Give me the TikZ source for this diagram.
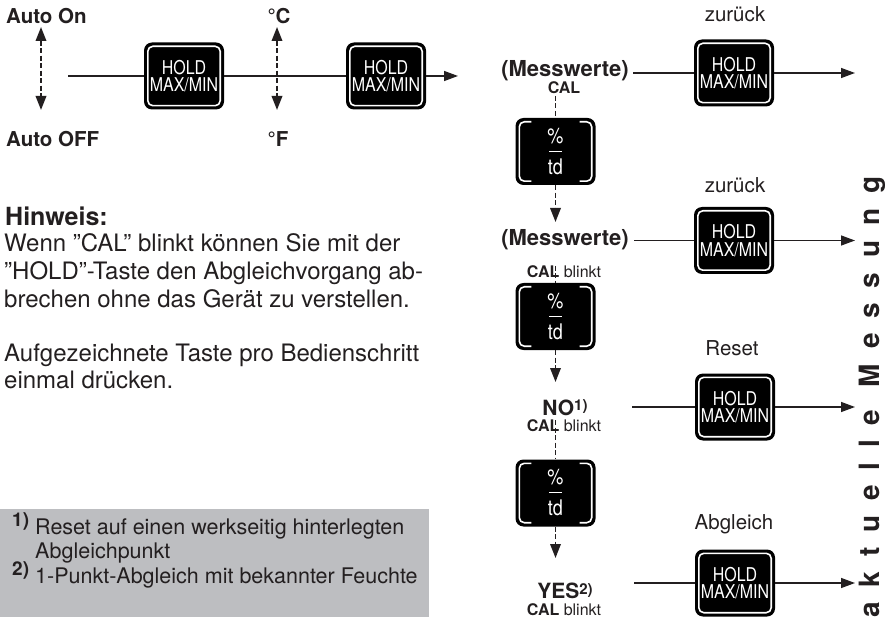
\documentclass[tikz,border=0pt]{standalone}
\usepackage{fontspec}
\setmainfont{TeX Gyre Heros}
\newfontfamily\keyfam[FakeStretch=0.84]{TeX Gyre Heros}
\usetikzlibrary{arrows.meta,calc}
\definecolor{txt}{HTML}{231F20}
\definecolor{boxgray}{HTML}{BDBEC1}
\newcommand\fsz[1]{\fontsize{#1}{#1}\selectfont}
\newcommand\keyfnt{\keyfam\fontsize{19}{17.5}\selectfont}
\newcommand\tdfnt{\keyfam\fontsize{21.5}{21.5}\selectfont}
\tikzset{
  lbl/.style={inner sep=0pt, text=txt},
  keybox/.style={fill=black, rounded corners=8pt, minimum width=80pt, minimum height=67pt,
    inner sep=0pt, text=white, align=center, font=\keyfnt},
  keyrim/.style={draw=white, line width=1.6pt, rounded corners=5pt},
  flow/.style={line width=1.4pt, draw=txt},
  flowarrow/.style={flow, -{Triangle[length=14pt,width=10pt]}},
  dashln/.style={line width=1.8pt, draw=txt, dash pattern=on 5pt off 2.5pt},
  dasharrow/.style={dashln, -{Triangle[length=14pt,width=10.5pt]}},
  dashdbl/.style={dashln, {Triangle[length=14pt,width=10.5pt]}-{Triangle[length=14pt,width=10.5pt]}},
}
\newcommand\holdkey[3]{%
  \node[keybox] (#1) at (#2,#3) {HOLD\\MAX/MIN};
  \draw[keyrim] ($(#1.north west)+(4,4)$) rectangle ($(#1.south east)+(-4,-4)$);}
\newcommand\tdkey[3]{%
  \node[keybox, font=\tdfnt] (#1) at (#2,#3) {\%\\[-8pt]\rule[5pt]{13pt}{1.2pt}\\[-4pt]td};
  \draw[keyrim] ($(#1.north west)+(16,4)$) -- ($(#1.north west)+(4,4)$) -- ($(#1.south west)+(4,-4)$) -- ($(#1.south west)+(16,-4)$);
  \draw[keyrim] ($(#1.north east)+(-16,4)$) -- ($(#1.north east)+(-4,4)$) -- ($(#1.south east)+(-4,-4)$) -- ($(#1.south east)+(-16,-4)$);}
\begin{document}
\begin{tikzpicture}[x=1pt,y=-1pt]
\useasboundingbox (0,0) rectangle (885,617);

% ---------- top row ----------
\node[lbl, anchor=base west, font=\fsz{20.5}\bfseries] (aon) at (6,24) {Auto On};
\node[lbl, anchor=base west, font=\fsz{20.5}\bfseries] (aoff) at (6,147) {Auto OFF};
\node[lbl, anchor=base, font=\fsz{20.5}\bfseries] (degc) at (279,24) {°C};
\node[lbl, anchor=base, font=\fsz{20.5}\bfseries] (degf) at (278,147) {°F};
\coordinate (a1) at (41,27); \coordinate (a2) at (41,110);
\coordinate (c1) at (277,27); \coordinate (c2) at (277,110);
\draw[dashdbl] (a1) -- (a2);
\draw[dashdbl] (c1) -- (c2);
\holdkey{t1}{184}{76}
\holdkey{t2}{386}{76}
\coordinate (ts) at (68,76); \coordinate (te) at (458,76);
\draw[flow] (ts) -- (t1.west);
\draw[flow] (t1.east) -- (t2.west);
\draw[flowarrow] (t2.east) -- (te);

% ---------- note text ----------
\node[lbl, anchor=base west, font=\fsz{25}\bfseries] (hw) at (5,226) {Hinweis:};
\node[lbl, anchor=base west, font=\fsz{24}] (l1) at (4,252) {Wenn ”CAL” blinkt können Sie mit der};
\node[lbl, anchor=base west, font=\fsz{24}] (l2) at (4,279.5) {”HOLD”-Taste den Abgleichvorgang ab-};
\node[lbl, anchor=base west, font=\fsz{24}] (l3) at (4,307) {brechen ohne das Gerät zu verstellen.};
\node[lbl, anchor=base west, font=\fsz{24}] (l4) at (4,361) {Aufgezeichnete Taste pro Bedienschritt};
\node[lbl, anchor=base west, font=\fsz{24}] (l5) at (4,388) {einmal drücken.};

% ---------- footnote box ----------
\fill[boxgray] (0,509) rectangle (429,617);
\node[lbl, anchor=base west, font=\fsz{19}\bfseries] (fn1) at (12,526) {1)};
\node[lbl, anchor=base west, font=\fsz{21.5}] (fn1a) at (35,534) {Reset auf einen werkseitig hinterlegten};
\node[lbl, anchor=base west, font=\fsz{21.5}] (fn1b) at (35,558) {Abgleichpunkt};
\node[lbl, anchor=base west, font=\fsz{19}\bfseries] (fn2) at (12,575) {2)};
\node[lbl, anchor=base west, font=\fsz{21.5}] (fn2a) at (35,583) {1-Punkt-Abgleich mit bekannter Feuchte};

% ---------- right column ----------
\node[lbl, anchor=base, font=\fsz{22}\bfseries] (mw1) at (565,77) {(Messwerte)};
\node[lbl, anchor=base, font=\fsz{16}\bfseries] (cal1) at (564,94) {CAL};
\node[lbl, anchor=base, font=\fsz{22}\bfseries] (mw2) at (565,246) {(Messwerte)};
\node[lbl, anchor=base, font=\fsz{16}] (cal2) at (564,277) {\textbf{CAL} blinkt};
\node[lbl, anchor=base, font=\fsz{21}\bfseries] (no) at (565,415) {NO\raisebox{4.5pt}{\fsz{15}1)}};
\node[lbl, anchor=base, font=\fsz{16}] (cal3) at (564,431) {\textbf{CAL} blinkt};
\node[lbl, anchor=base, font=\fsz{21}\bfseries] (yes) at (565,598.5) {YES\raisebox{4.5pt}{\fsz{15}2)}};
\node[lbl, anchor=base, font=\fsz{16}] (cal4) at (564,615.5) {\textbf{CAL} blinkt};

\tdkey{k1}{555.5}{151.5}
\tdkey{k2}{555.5}{316.5}
\tdkey{k3}{555.5}{493}

\coordinate (d1) at (555.5,96);  \coordinate (e1) at (555.5,222);
\coordinate (d2) at (555.5,266); \coordinate (e2) at (555.5,382);
\coordinate (d3) at (555.5,420); \coordinate (e3) at (555.5,558);
\draw[dashln] (d1) -- (k1.north);
\draw[dasharrow] (k1.south) -- (e1);
\draw[dashln] (d2) -- (k2.north);
\draw[dasharrow] (k2.south) -- (e2);
\draw[dashln] (d3) -- (k3.north);
\draw[dasharrow] (k3.south) -- (e3);

\holdkey{r1}{734}{73}
\holdkey{r2}{734}{240.5}
\holdkey{r3}{735}{407}
\holdkey{r4}{735}{583}
\node[lbl, anchor=base, font=\fsz{20.5}] (zr1) at (735,22) {zurück};
\node[lbl, anchor=base, font=\fsz{20.5}] (zr2) at (735,193) {zurück};
\node[lbl, anchor=base, font=\fsz{20.5}] (rs) at (732,355) {Reset};
\node[lbl, anchor=base, font=\fsz{20.5}] (ag) at (734,529) {Abgleich};

\coordinate (s1) at (633,73);    \coordinate (f1) at (855,73);
\coordinate (s2) at (634,240.5); \coordinate (f2) at (855,240.5);
\coordinate (s3) at (632,407);   \coordinate (f3) at (855,407);
\coordinate (s4) at (634,583);   \coordinate (f4) at (855,583);
\draw[flow] (s1) -- (r1.west); \draw[flowarrow] (r1.east) -- (f1);
\draw[flow] (s2) -- (r2.west); \draw[flowarrow] (r2.east) -- (f2);
\draw[flow] (s3) -- (r3.west); \draw[flowarrow] (r3.east) -- (f3);
\draw[flow] (s4) -- (r4.west); \draw[flowarrow] (r4.east) -- (f4);

% ---------- vertical label ----------
\node[lbl, anchor=base west, rotate=90, font=\fsz{28}\bfseries\addfontfeatures{LetterSpace=53}] (am) at (879,618) {aktuelle Messung};
\end{tikzpicture}
\end{document}
